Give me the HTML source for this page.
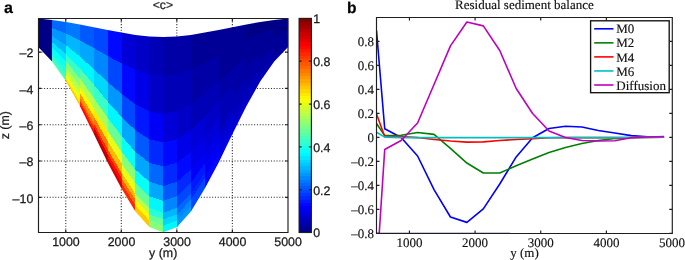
<!DOCTYPE html><html><head><meta charset="utf-8"><style>html,body{margin:0;padding:0;background:#fff;}body{width:685px;height:260px;overflow:hidden;}svg{display:block;}text{text-rendering:geometricPrecision;}.s{font-family:"Liberation Sans",sans-serif;stroke:#1a1a1a;stroke-width:0.25px;}.r{font-family:"Liberation Serif",serif;stroke:#111;stroke-width:0.15px;}</style></head><body>
<svg width="685" height="260" viewBox="0 0 685 260">
<rect width="685" height="260" fill="#fff"/>
<path d="M65.77 18.5V232.5M121.3 18.5V232.5M176.83 18.5V232.5M232.37 18.5V232.5M38.5 52.18H288M38.5 88.46H288M38.5 124.74H288M38.5 161.02H288M38.5 197.3H288" stroke="#333" stroke-width="1.1" stroke-dasharray="1.1 1.7" fill="none"/>
<defs><clipPath id="mc"><polygon points="38.2,18.46 52.08,19.91 65.97,21.89 79.85,24.38 93.73,27.14 107.62,30.02 121.5,32.62 135.38,34.92 149.27,36.46 163.15,37 177.03,36.46 190.92,34.92 204.8,32.62 218.68,30.02 232.57,27.14 246.45,24.38 260.33,21.89 274.22,19.91 288.1,18.46 288.1,46.9 274.22,61.4 260.33,81.2 246.45,106.1 232.57,133.7 218.68,162.5 204.8,188.5 190.92,211.5 177.03,226.9 163.15,232.3 149.27,226.9 135.38,211.5 121.5,188.5 107.62,162.5 93.73,133.7 79.85,106.1 65.97,81.2 52.08,61.4 38.2,46.9"/></clipPath></defs>
<g clip-path="url(#mc)" shape-rendering="crispEdges">
<polygon points="35.2,15.46 52.08,16.91 52.08,28.04 35.2,24.03" fill="#000087"/>
<polygon points="35.2,24.03 52.08,28.04 52.08,36.22 35.2,29.64" fill="#000087"/>
<polygon points="35.2,29.64 52.08,36.22 52.08,42.31 35.2,33.82" fill="#000087"/>
<polygon points="35.2,33.82 52.08,42.31 52.08,47.42 35.2,37.32" fill="#000087"/>
<polygon points="35.2,37.32 52.08,47.42 52.08,51.57 35.2,40.16" fill="#000087"/>
<polygon points="35.2,40.16 52.08,51.57 52.08,54.72 35.2,42.32" fill="#000087"/>
<polygon points="35.2,42.32 52.08,54.72 52.08,57.25 35.2,44.06" fill="#000087"/>
<polygon points="35.2,44.06 52.08,57.25 52.08,58.66 35.2,45.02" fill="#000087"/>
<polygon points="35.2,45.02 52.08,58.66 52.08,59.99 35.2,45.93" fill="#000087"/>
<polygon points="35.2,45.93 52.08,59.99 52.08,64.4 35.2,49.9" fill="#000087"/>
<polygon points="52.08,16.91 65.97,18.89 65.97,33.51 52.08,28.04" fill="#0068ff"/>
<polygon points="52.08,28.04 65.97,33.51 65.97,45.2 52.08,36.22" fill="#0097ff"/>
<polygon points="52.08,36.22 65.97,45.2 65.97,53.92 52.08,42.31" fill="#00b7ff"/>
<polygon points="52.08,42.31 65.97,53.92 65.97,61.21 52.08,47.42" fill="#00e7ff"/>
<polygon points="52.08,47.42 65.97,61.21 65.97,67.14 52.08,51.57" fill="#08fff7"/>
<polygon points="52.08,51.57 65.97,67.14 65.97,71.65 52.08,54.72" fill="#18ffe7"/>
<polygon points="52.08,54.72 65.97,71.65 65.97,75.27 52.08,57.25" fill="#28ffd7"/>
<polygon points="52.08,57.25 65.97,75.27 65.97,77.29 52.08,58.66" fill="#38ffc7"/>
<polygon points="52.08,58.66 65.97,77.29 65.97,79.18 52.08,59.99" fill="#48ffb7"/>
<polygon points="52.08,59.99 65.97,79.18 65.97,84.2 52.08,64.4" fill="#48ffb7"/>
<polygon points="65.97,18.89 79.85,21.38 79.85,40.4 65.97,33.51" fill="#0078ff"/>
<polygon points="65.97,33.51 79.85,40.4 79.85,56.5 65.97,45.2" fill="#00b7ff"/>
<polygon points="65.97,45.2 79.85,56.5 79.85,68.51 65.97,53.92" fill="#00f7ff"/>
<polygon points="65.97,53.92 79.85,68.51 79.85,78.56 65.97,61.21" fill="#38ffc7"/>
<polygon points="65.97,61.21 79.85,78.56 79.85,86.73 65.97,67.14" fill="#87ff78"/>
<polygon points="65.97,67.14 79.85,86.73 79.85,92.94 65.97,71.65" fill="#b7ff48"/>
<polygon points="65.97,71.65 79.85,92.94 79.85,97.93 65.97,75.27" fill="#d7ff28"/>
<polygon points="65.97,75.27 79.85,97.93 79.85,100.71 65.97,77.29" fill="#f7ff08"/>
<polygon points="65.97,77.29 79.85,100.71 79.85,103.32 65.97,79.18" fill="#ffe700"/>
<polygon points="65.97,79.18 79.85,103.32 79.85,109.1 65.97,84.2" fill="#ffc700"/>
<polygon points="79.85,21.38 93.73,24.14 93.73,48.03 79.85,40.4" fill="#0058ff"/>
<polygon points="79.85,40.4 93.73,48.03 93.73,69.02 79.85,56.5" fill="#00a7ff"/>
<polygon points="79.85,56.5 93.73,69.02 93.73,84.68 79.85,68.51" fill="#00f7ff"/>
<polygon points="79.85,68.51 93.73,84.68 93.73,97.79 79.85,78.56" fill="#58ffa7"/>
<polygon points="79.85,78.56 93.73,97.79 93.73,108.45 79.85,86.73" fill="#b7ff48"/>
<polygon points="79.85,86.73 93.73,108.45 93.73,116.54 79.85,92.94" fill="#fff700"/>
<polygon points="79.85,92.94 93.73,116.54 93.73,123.04 79.85,97.93" fill="#ff9700"/>
<polygon points="79.85,97.93 93.73,123.04 93.73,126.67 79.85,100.71" fill="#ff6800"/>
<polygon points="79.85,100.71 93.73,126.67 93.73,130.08 79.85,103.32" fill="#ff2800"/>
<polygon points="79.85,103.32 93.73,130.08 93.73,136.7 79.85,109.1" fill="#ff0800"/>
<polygon points="93.73,24.14 107.62,27.02 107.62,55.99 93.73,48.03" fill="#0048ff"/>
<polygon points="93.73,48.03 107.62,55.99 107.62,82.08 93.73,69.02" fill="#0087ff"/>
<polygon points="93.73,69.02 107.62,82.08 107.62,101.56 93.73,84.68" fill="#00d7ff"/>
<polygon points="93.73,84.68 107.62,101.56 107.62,117.85 93.73,97.79" fill="#38ffc7"/>
<polygon points="93.73,97.79 107.62,117.85 107.62,131.1 93.73,108.45" fill="#a7ff58"/>
<polygon points="93.73,108.45 107.62,131.1 107.62,141.17 93.73,116.54" fill="#ffe700"/>
<polygon points="93.73,116.54 107.62,141.17 107.62,149.25 93.73,123.04" fill="#ff7800"/>
<polygon points="93.73,123.04 107.62,149.25 107.62,153.76 93.73,126.67" fill="#ff2800"/>
<polygon points="93.73,126.67 107.62,153.76 107.62,158 93.73,130.08" fill="#d70000"/>
<polygon points="93.73,130.08 107.62,158 107.62,165.5 93.73,136.7" fill="#b70000"/>
<polygon points="107.62,27.02 121.5,29.62 121.5,63.17 107.62,55.99" fill="#0008ff"/>
<polygon points="107.62,55.99 121.5,63.17 121.5,93.88 107.62,82.08" fill="#0048ff"/>
<polygon points="107.62,82.08 121.5,93.88 121.5,116.8 107.62,101.56" fill="#0097ff"/>
<polygon points="107.62,101.56 121.5,116.8 121.5,135.97 107.62,117.85" fill="#00f7ff"/>
<polygon points="107.62,117.85 121.5,135.97 121.5,151.56 107.62,131.1" fill="#68ff97"/>
<polygon points="107.62,131.1 121.5,151.56 121.5,163.4 107.62,141.17" fill="#e7ff18"/>
<polygon points="107.62,141.17 121.5,163.4 121.5,172.91 107.62,149.25" fill="#ffb700"/>
<polygon points="107.62,149.25 121.5,172.91 121.5,178.21 107.62,153.76" fill="#ff4800"/>
<polygon points="107.62,153.76 121.5,178.21 121.5,183.2 107.62,158" fill="#ff0800"/>
<polygon points="107.62,158 121.5,183.2 121.5,191.5 107.62,165.5" fill="#d70000"/>
<polygon points="121.5,29.62 135.38,31.92 135.38,69.53 121.5,63.17" fill="#0000d7"/>
<polygon points="121.5,63.17 135.38,69.53 135.38,104.32 121.5,93.88" fill="#0008ff"/>
<polygon points="121.5,93.88 135.38,104.32 135.38,130.27 121.5,116.8" fill="#0048ff"/>
<polygon points="121.5,116.8 135.38,130.27 135.38,151.99 121.5,135.97" fill="#00a7ff"/>
<polygon points="121.5,135.97 135.38,151.99 135.38,169.65 121.5,151.56" fill="#08fff7"/>
<polygon points="121.5,151.56 135.38,169.65 135.38,183.07 121.5,163.4" fill="#87ff78"/>
<polygon points="121.5,163.4 135.38,183.07 135.38,193.84 121.5,172.91" fill="#e7ff18"/>
<polygon points="121.5,172.91 135.38,193.84 135.38,199.85 121.5,178.21" fill="#ffb700"/>
<polygon points="121.5,178.21 135.38,199.85 135.38,205.5 121.5,183.2" fill="#ff6800"/>
<polygon points="121.5,183.2 135.38,205.5 135.38,214.5 121.5,191.5" fill="#ff2800"/>
<polygon points="135.38,31.92 149.27,33.46 149.27,73.79 135.38,69.53" fill="#0000c7"/>
<polygon points="135.38,69.53 149.27,73.79 149.27,111.3 135.38,104.32" fill="#0000e7"/>
<polygon points="135.38,104.32 149.27,111.3 149.27,139.3 135.38,130.27" fill="#0018ff"/>
<polygon points="135.38,130.27 149.27,139.3 149.27,162.72 135.38,151.99" fill="#0058ff"/>
<polygon points="135.38,151.99 149.27,162.72 149.27,181.77 135.38,169.65" fill="#00a7ff"/>
<polygon points="135.38,169.65 149.27,181.77 149.27,196.24 135.38,183.07" fill="#08fff7"/>
<polygon points="135.38,183.07 149.27,196.24 149.27,207.86 135.38,193.84" fill="#68ff97"/>
<polygon points="135.38,193.84 149.27,207.86 149.27,214.33 135.38,199.85" fill="#b7ff48"/>
<polygon points="135.38,199.85 149.27,214.33 149.27,220.43 135.38,205.5" fill="#fff700"/>
<polygon points="135.38,205.5 149.27,220.43 149.27,229.9 135.38,214.5" fill="#ffc700"/>
<polygon points="149.27,33.46 163.15,34 163.15,75.28 149.27,73.79" fill="#0000b7"/>
<polygon points="149.27,73.79 163.15,75.28 163.15,113.75 149.27,111.3" fill="#0000c7"/>
<polygon points="149.27,111.3 163.15,113.75 163.15,142.46 149.27,139.3" fill="#0000f7"/>
<polygon points="149.27,139.3 163.15,142.46 163.15,166.48 149.27,162.72" fill="#0028ff"/>
<polygon points="149.27,162.72 163.15,166.48 163.15,186.01 149.27,181.77" fill="#0068ff"/>
<polygon points="149.27,181.77 163.15,186.01 163.15,200.86 149.27,196.24" fill="#00a7ff"/>
<polygon points="149.27,196.24 163.15,200.86 163.15,212.77 149.27,207.86" fill="#00f7ff"/>
<polygon points="149.27,207.86 163.15,212.77 163.15,219.41 149.27,214.33" fill="#28ffd7"/>
<polygon points="149.27,214.33 163.15,219.41 163.15,225.66 149.27,220.43" fill="#68ff97"/>
<polygon points="149.27,220.43 163.15,225.66 163.15,235.3 149.27,229.9" fill="#87ff78"/>
<polygon points="163.15,34 177.03,33.46 177.03,73.79 163.15,75.28" fill="#0000a7"/>
<polygon points="163.15,75.28 177.03,73.79 177.03,111.3 163.15,113.75" fill="#0000b7"/>
<polygon points="163.15,113.75 177.03,111.3 177.03,139.3 163.15,142.46" fill="#0000d7"/>
<polygon points="163.15,142.46 177.03,139.3 177.03,162.72 163.15,166.48" fill="#0008ff"/>
<polygon points="163.15,166.48 177.03,162.72 177.03,181.77 163.15,186.01" fill="#0028ff"/>
<polygon points="163.15,186.01 177.03,181.77 177.03,196.24 163.15,200.86" fill="#0058ff"/>
<polygon points="163.15,200.86 177.03,196.24 177.03,207.86 163.15,212.77" fill="#0087ff"/>
<polygon points="163.15,212.77 177.03,207.86 177.03,214.33 163.15,219.41" fill="#00b7ff"/>
<polygon points="163.15,219.41 177.03,214.33 177.03,220.43 163.15,225.66" fill="#00d7ff"/>
<polygon points="163.15,225.66 177.03,220.43 177.03,229.9 163.15,235.3" fill="#00f7ff"/>
<polygon points="177.03,33.46 190.92,31.92 190.92,69.53 177.03,73.79" fill="#0000a7"/>
<polygon points="177.03,73.79 190.92,69.53 190.92,104.32 177.03,111.3" fill="#0000b7"/>
<polygon points="177.03,111.3 190.92,104.32 190.92,130.27 177.03,139.3" fill="#0000c7"/>
<polygon points="177.03,139.3 190.92,130.27 190.92,151.99 177.03,162.72" fill="#0000e7"/>
<polygon points="177.03,162.72 190.92,151.99 190.92,169.65 177.03,181.77" fill="#0008ff"/>
<polygon points="177.03,181.77 190.92,169.65 190.92,183.07 177.03,196.24" fill="#0028ff"/>
<polygon points="177.03,196.24 190.92,183.07 190.92,193.84 177.03,207.86" fill="#0048ff"/>
<polygon points="177.03,207.86 190.92,193.84 190.92,199.85 177.03,214.33" fill="#0068ff"/>
<polygon points="177.03,214.33 190.92,199.85 190.92,205.5 177.03,220.43" fill="#0087ff"/>
<polygon points="177.03,220.43 190.92,205.5 190.92,214.5 177.03,229.9" fill="#0097ff"/>
<polygon points="190.92,31.92 204.8,29.62 204.8,63.17 190.92,69.53" fill="#000097"/>
<polygon points="190.92,69.53 204.8,63.17 204.8,93.88 190.92,104.32" fill="#0000a7"/>
<polygon points="190.92,104.32 204.8,93.88 204.8,116.8 190.92,130.27" fill="#0000b7"/>
<polygon points="190.92,130.27 204.8,116.8 204.8,135.97 190.92,151.99" fill="#0000d7"/>
<polygon points="190.92,151.99 204.8,135.97 204.8,151.56 190.92,169.65" fill="#0000e7"/>
<polygon points="190.92,169.65 204.8,151.56 204.8,163.4 190.92,183.07" fill="#0000f7"/>
<polygon points="190.92,183.07 204.8,163.4 204.8,172.91 190.92,193.84" fill="#0018ff"/>
<polygon points="190.92,193.84 204.8,172.91 204.8,178.21 190.92,199.85" fill="#0028ff"/>
<polygon points="190.92,199.85 204.8,178.21 204.8,183.2 190.92,205.5" fill="#0048ff"/>
<polygon points="190.92,205.5 204.8,183.2 204.8,191.5 190.92,214.5" fill="#0048ff"/>
<polygon points="204.8,29.62 218.68,27.02 218.68,55.99 204.8,63.17" fill="#000097"/>
<polygon points="204.8,63.17 218.68,55.99 218.68,82.08 204.8,93.88" fill="#0000a7"/>
<polygon points="204.8,93.88 218.68,82.08 218.68,101.56 204.8,116.8" fill="#0000b7"/>
<polygon points="204.8,116.8 218.68,101.56 218.68,117.85 204.8,135.97" fill="#0000c7"/>
<polygon points="204.8,135.97 218.68,117.85 218.68,131.1 204.8,151.56" fill="#0000d7"/>
<polygon points="204.8,151.56 218.68,131.1 218.68,141.17 204.8,163.4" fill="#0000e7"/>
<polygon points="204.8,163.4 218.68,141.17 218.68,149.25 204.8,172.91" fill="#0000f7"/>
<polygon points="204.8,172.91 218.68,149.25 218.68,153.76 204.8,178.21" fill="#0000f7"/>
<polygon points="204.8,178.21 218.68,153.76 218.68,158 204.8,183.2" fill="#0008ff"/>
<polygon points="204.8,183.2 218.68,158 218.68,165.5 204.8,191.5" fill="#0008ff"/>
<polygon points="218.68,27.02 232.57,24.14 232.57,48.03 218.68,55.99" fill="#000097"/>
<polygon points="218.68,55.99 232.57,48.03 232.57,69.02 218.68,82.08" fill="#000097"/>
<polygon points="218.68,82.08 232.57,69.02 232.57,84.68 218.68,101.56" fill="#0000a7"/>
<polygon points="218.68,101.56 232.57,84.68 232.57,97.79 218.68,117.85" fill="#0000b7"/>
<polygon points="218.68,117.85 232.57,97.79 232.57,108.45 218.68,131.1" fill="#0000b7"/>
<polygon points="218.68,131.1 232.57,108.45 232.57,116.54 218.68,141.17" fill="#0000c7"/>
<polygon points="218.68,141.17 232.57,116.54 232.57,123.04 218.68,149.25" fill="#0000d7"/>
<polygon points="218.68,149.25 232.57,123.04 232.57,126.67 218.68,153.76" fill="#0000d7"/>
<polygon points="218.68,153.76 232.57,126.67 232.57,130.08 218.68,158" fill="#0000e7"/>
<polygon points="218.68,158 232.57,130.08 232.57,136.7 218.68,165.5" fill="#0000f7"/>
<polygon points="232.57,24.14 246.45,21.38 246.45,40.4 232.57,48.03" fill="#000097"/>
<polygon points="232.57,48.03 246.45,40.4 246.45,56.5 232.57,69.02" fill="#000097"/>
<polygon points="232.57,69.02 246.45,56.5 246.45,68.51 232.57,84.68" fill="#0000a7"/>
<polygon points="232.57,84.68 246.45,68.51 246.45,78.56 232.57,97.79" fill="#0000a7"/>
<polygon points="232.57,97.79 246.45,78.56 246.45,86.73 232.57,108.45" fill="#0000b7"/>
<polygon points="232.57,108.45 246.45,86.73 246.45,92.94 232.57,116.54" fill="#0000b7"/>
<polygon points="232.57,116.54 246.45,92.94 246.45,97.93 232.57,123.04" fill="#0000c7"/>
<polygon points="232.57,123.04 246.45,97.93 246.45,100.71 232.57,126.67" fill="#0000c7"/>
<polygon points="232.57,126.67 246.45,100.71 246.45,103.32 232.57,130.08" fill="#0000d7"/>
<polygon points="232.57,130.08 246.45,103.32 246.45,109.1 232.57,136.7" fill="#0000d7"/>
<polygon points="246.45,21.38 260.33,18.89 260.33,33.51 246.45,40.4" fill="#000087"/>
<polygon points="246.45,40.4 260.33,33.51 260.33,45.2 246.45,56.5" fill="#000097"/>
<polygon points="246.45,56.5 260.33,45.2 260.33,53.92 246.45,68.51" fill="#000097"/>
<polygon points="246.45,68.51 260.33,53.92 260.33,61.21 246.45,78.56" fill="#0000a7"/>
<polygon points="246.45,78.56 260.33,61.21 260.33,67.14 246.45,86.73" fill="#0000a7"/>
<polygon points="246.45,86.73 260.33,67.14 260.33,71.65 246.45,92.94" fill="#0000b7"/>
<polygon points="246.45,92.94 260.33,71.65 260.33,75.27 246.45,97.93" fill="#0000b7"/>
<polygon points="246.45,97.93 260.33,75.27 260.33,77.29 246.45,100.71" fill="#0000b7"/>
<polygon points="246.45,100.71 260.33,77.29 260.33,79.18 246.45,103.32" fill="#0000c7"/>
<polygon points="246.45,103.32 260.33,79.18 260.33,84.2 246.45,109.1" fill="#0000c7"/>
<polygon points="260.33,18.89 274.22,16.91 274.22,28.04 260.33,33.51" fill="#000087"/>
<polygon points="260.33,33.51 274.22,28.04 274.22,36.22 260.33,45.2" fill="#000097"/>
<polygon points="260.33,45.2 274.22,36.22 274.22,42.31 260.33,53.92" fill="#000097"/>
<polygon points="260.33,53.92 274.22,42.31 274.22,47.42 260.33,61.21" fill="#000097"/>
<polygon points="260.33,61.21 274.22,47.42 274.22,51.57 260.33,67.14" fill="#0000a7"/>
<polygon points="260.33,67.14 274.22,51.57 274.22,54.72 260.33,71.65" fill="#0000a7"/>
<polygon points="260.33,71.65 274.22,54.72 274.22,57.25 260.33,75.27" fill="#0000a7"/>
<polygon points="260.33,75.27 274.22,57.25 274.22,58.66 260.33,77.29" fill="#0000b7"/>
<polygon points="260.33,77.29 274.22,58.66 274.22,59.99 260.33,79.18" fill="#0000b7"/>
<polygon points="260.33,79.18 274.22,59.99 274.22,64.4 260.33,84.2" fill="#0000b7"/>
<polygon points="274.22,16.91 291.1,15.46 291.1,24.03 274.22,28.04" fill="#000087"/>
<polygon points="274.22,28.04 291.1,24.03 291.1,29.64 274.22,36.22" fill="#000087"/>
<polygon points="274.22,36.22 291.1,29.64 291.1,33.82 274.22,42.31" fill="#000097"/>
<polygon points="274.22,42.31 291.1,33.82 291.1,37.32 274.22,47.42" fill="#000097"/>
<polygon points="274.22,47.42 291.1,37.32 291.1,40.16 274.22,51.57" fill="#000097"/>
<polygon points="274.22,51.57 291.1,40.16 291.1,42.32 274.22,54.72" fill="#000097"/>
<polygon points="274.22,54.72 291.1,42.32 291.1,44.06 274.22,57.25" fill="#0000a7"/>
<polygon points="274.22,57.25 291.1,44.06 291.1,45.02 274.22,58.66" fill="#0000a7"/>
<polygon points="274.22,58.66 291.1,45.02 291.1,45.93 274.22,59.99" fill="#0000a7"/>
<polygon points="274.22,59.99 291.1,45.93 291.1,49.9 274.22,64.4" fill="#0000a7"/>
</g>
<path d="M38.5 18.5H288V232.5H38.5Z" fill="none" stroke="#1e1e1e" stroke-width="1.15"/>
<path d="M65.77 232.5v-2.8M65.77 18.5v2.8M121.3 232.5v-2.8M121.3 18.5v2.8M176.83 232.5v-2.8M176.83 18.5v2.8M232.37 232.5v-2.8M232.37 18.5v2.8M38.5 52.18h2.8M288 52.18h-2.8M38.5 88.46h2.8M288 88.46h-2.8M38.5 124.74h2.8M288 124.74h-2.8M38.5 161.02h2.8M288 161.02h-2.8M38.5 197.3h2.8M288 197.3h-2.8" stroke="#1e1e1e" stroke-width="1.2" fill="none"/>
<g shape-rendering="crispEdges">
<rect x="299.1" y="229.15" width="12.3" height="3.95" fill="#000087"/>
<rect x="299.1" y="225.81" width="12.3" height="3.95" fill="#000097"/>
<rect x="299.1" y="222.46" width="12.3" height="3.95" fill="#0000a7"/>
<rect x="299.1" y="219.12" width="12.3" height="3.95" fill="#0000b7"/>
<rect x="299.1" y="215.77" width="12.3" height="3.95" fill="#0000c7"/>
<rect x="299.1" y="212.43" width="12.3" height="3.95" fill="#0000d7"/>
<rect x="299.1" y="209.08" width="12.3" height="3.95" fill="#0000e7"/>
<rect x="299.1" y="205.74" width="12.3" height="3.95" fill="#0000f7"/>
<rect x="299.1" y="202.39" width="12.3" height="3.95" fill="#0008ff"/>
<rect x="299.1" y="199.05" width="12.3" height="3.95" fill="#0018ff"/>
<rect x="299.1" y="195.7" width="12.3" height="3.95" fill="#0028ff"/>
<rect x="299.1" y="192.36" width="12.3" height="3.95" fill="#0038ff"/>
<rect x="299.1" y="189.01" width="12.3" height="3.95" fill="#0048ff"/>
<rect x="299.1" y="185.67" width="12.3" height="3.95" fill="#0058ff"/>
<rect x="299.1" y="182.32" width="12.3" height="3.95" fill="#0068ff"/>
<rect x="299.1" y="178.97" width="12.3" height="3.95" fill="#0078ff"/>
<rect x="299.1" y="175.63" width="12.3" height="3.95" fill="#0087ff"/>
<rect x="299.1" y="172.28" width="12.3" height="3.95" fill="#0097ff"/>
<rect x="299.1" y="168.94" width="12.3" height="3.95" fill="#00a7ff"/>
<rect x="299.1" y="165.59" width="12.3" height="3.95" fill="#00b7ff"/>
<rect x="299.1" y="162.25" width="12.3" height="3.95" fill="#00c7ff"/>
<rect x="299.1" y="158.9" width="12.3" height="3.95" fill="#00d7ff"/>
<rect x="299.1" y="155.56" width="12.3" height="3.95" fill="#00e7ff"/>
<rect x="299.1" y="152.21" width="12.3" height="3.95" fill="#00f7ff"/>
<rect x="299.1" y="148.87" width="12.3" height="3.95" fill="#08fff7"/>
<rect x="299.1" y="145.52" width="12.3" height="3.95" fill="#18ffe7"/>
<rect x="299.1" y="142.18" width="12.3" height="3.95" fill="#28ffd7"/>
<rect x="299.1" y="138.83" width="12.3" height="3.95" fill="#38ffc7"/>
<rect x="299.1" y="135.49" width="12.3" height="3.95" fill="#48ffb7"/>
<rect x="299.1" y="132.14" width="12.3" height="3.95" fill="#58ffa7"/>
<rect x="299.1" y="128.8" width="12.3" height="3.95" fill="#68ff97"/>
<rect x="299.1" y="125.45" width="12.3" height="3.95" fill="#78ff87"/>
<rect x="299.1" y="122.1" width="12.3" height="3.95" fill="#87ff78"/>
<rect x="299.1" y="118.76" width="12.3" height="3.95" fill="#97ff68"/>
<rect x="299.1" y="115.41" width="12.3" height="3.95" fill="#a7ff58"/>
<rect x="299.1" y="112.07" width="12.3" height="3.95" fill="#b7ff48"/>
<rect x="299.1" y="108.72" width="12.3" height="3.95" fill="#c7ff38"/>
<rect x="299.1" y="105.38" width="12.3" height="3.95" fill="#d7ff28"/>
<rect x="299.1" y="102.03" width="12.3" height="3.95" fill="#e7ff18"/>
<rect x="299.1" y="98.69" width="12.3" height="3.95" fill="#f7ff08"/>
<rect x="299.1" y="95.34" width="12.3" height="3.95" fill="#fff700"/>
<rect x="299.1" y="92" width="12.3" height="3.95" fill="#ffe700"/>
<rect x="299.1" y="88.65" width="12.3" height="3.95" fill="#ffd700"/>
<rect x="299.1" y="85.31" width="12.3" height="3.95" fill="#ffc700"/>
<rect x="299.1" y="81.96" width="12.3" height="3.95" fill="#ffb700"/>
<rect x="299.1" y="78.62" width="12.3" height="3.95" fill="#ffa700"/>
<rect x="299.1" y="75.27" width="12.3" height="3.95" fill="#ff9700"/>
<rect x="299.1" y="71.93" width="12.3" height="3.95" fill="#ff8700"/>
<rect x="299.1" y="68.58" width="12.3" height="3.95" fill="#ff7800"/>
<rect x="299.1" y="65.23" width="12.3" height="3.95" fill="#ff6800"/>
<rect x="299.1" y="61.89" width="12.3" height="3.95" fill="#ff5800"/>
<rect x="299.1" y="58.54" width="12.3" height="3.95" fill="#ff4800"/>
<rect x="299.1" y="55.2" width="12.3" height="3.95" fill="#ff3800"/>
<rect x="299.1" y="51.85" width="12.3" height="3.95" fill="#ff2800"/>
<rect x="299.1" y="48.51" width="12.3" height="3.95" fill="#ff1800"/>
<rect x="299.1" y="45.16" width="12.3" height="3.95" fill="#ff0800"/>
<rect x="299.1" y="41.82" width="12.3" height="3.95" fill="#f70000"/>
<rect x="299.1" y="38.47" width="12.3" height="3.95" fill="#e70000"/>
<rect x="299.1" y="35.13" width="12.3" height="3.95" fill="#d70000"/>
<rect x="299.1" y="31.78" width="12.3" height="3.95" fill="#c70000"/>
<rect x="299.1" y="28.44" width="12.3" height="3.95" fill="#b70000"/>
<rect x="299.1" y="25.09" width="12.3" height="3.95" fill="#a70000"/>
<rect x="299.1" y="21.75" width="12.3" height="3.95" fill="#970000"/>
<rect x="299.1" y="18.4" width="12.3" height="3.95" fill="#870000"/>
</g>
<rect x="299.1" y="18.4" width="12.3" height="214.1" fill="none" stroke="#1e1e1e" stroke-width="1.15"/>
<path d="M299.1 189.68h2.5M311.4 189.68h-2.5M299.1 146.86h2.5M311.4 146.86h-2.5M299.1 104.04h2.5M311.4 104.04h-2.5M299.1 61.22h2.5M311.4 61.22h-2.5" stroke="#1e1e1e" stroke-width="1.2"/>
<defs><clipPath id="rc"><rect x="376.5" y="17.5" width="295.79999999999995" height="215.5"/></clipPath></defs>
<g clip-path="url(#rc)" fill="none" stroke-width="1.6" stroke-linejoin="round">
<path d="M376.5 30.66 L384.72 128.73 L401.15 137.46 L417.58 156 L434.02 189.6 L450.45 216.99 L466.88 222.37 L483.32 208.86 L499.75 183.98 L516.18 156.95 L532.62 137.7 L549.05 128.49 L565.48 126.22 L581.92 127.05 L598.35 130.52 L614.78 133.03 L631.22 135.66 L647.65 136.86 L664.08 137.1" stroke="#0000ff"/>
<path d="M376.5 123.47 L384.72 135.66 L401.15 135.31 L417.58 132.44 L434.02 134.35 L450.45 148.46 L466.88 163.05 L483.32 172.98 L499.75 172.98 L516.18 165.8 L532.62 158.99 L549.05 152.53 L565.48 147.51 L581.92 143.56 L598.35 140.45 L614.78 138.54 L631.22 137.82 L647.65 137.1 L664.08 137.1" stroke="#008000"/>
<path d="M376.5 114.02 L384.72 136.5 L401.15 136.5 L417.58 137.58 L434.02 139.49 L450.45 141.05 L466.88 142.12 L483.32 141.88 L499.75 140.45 L516.18 139.49 L532.62 138.77 L549.05 137.82 L565.48 137.58 L581.92 137.58 L598.35 137.58 L614.78 137.58 L631.22 137.46 L647.65 137.34 L664.08 137.22" stroke="#ff0000"/>
<path d="M376.5 132.2 L384.72 137.1 L401.15 137.58 L417.58 137.58 L434.02 137.58 L450.45 137.58 L466.88 137.58 L483.32 137.58 L499.75 137.58 L516.18 137.58 L532.62 137.58 L549.05 137.58 L565.48 137.58 L581.92 137.58 L598.35 137.58 L614.78 137.58 L631.22 137.46 L647.65 137.34 L664.08 137.22" stroke="#00bfbf"/>
<path d="M376.5 274.64 L384.72 149.54 L401.15 140.45 L417.58 122.99 L434.02 84.48 L450.45 45.85 L466.88 22.04 L483.32 25.87 L499.75 50.51 L516.18 88.54 L532.62 113.54 L549.05 131 L565.48 137.46 L581.92 140.45 L598.35 141.05 L614.78 140.81 L631.22 137.7 L647.65 136.98 L664.08 136.62" stroke="#bf00bf"/>
</g>
<path d="M376.5 233.4H510" stroke="#2a2a8a" stroke-width="1.2" fill="none"/>
<path d="M376.5 17.5H672.3V233.5H376.5Z" fill="none" stroke="#1e1e1e" stroke-width="1.15"/>
<path d="M409.43 233.5v-3M409.43 17.5v3M475.08 233.5v-3M475.08 17.5v3M540.73 233.5v-3M540.73 17.5v3M606.38 233.5v-3M606.38 17.5v3M376.5 233.4h3M672.3 233.4h-3M376.5 209.4h3M672.3 209.4h-3M376.5 185.4h3M672.3 185.4h-3M376.5 161.4h3M672.3 161.4h-3M376.5 137.4h3M672.3 137.4h-3M376.5 113.4h3M672.3 113.4h-3M376.5 89.4h3M672.3 89.4h-3M376.5 65.4h3M672.3 65.4h-3M376.5 41.4h3M672.3 41.4h-3" stroke="#1e1e1e" stroke-width="1.15" fill="none"/>
<rect x="590.6" y="20.8" width="78.6" height="71.9" fill="#fff" stroke="#111" stroke-width="1.35"/>
<path d="M594.2 28.8H613.5" stroke="#0000ff" stroke-width="1.6"/>
<path d="M594.2 42.85H613.5" stroke="#008000" stroke-width="1.6"/>
<path d="M594.2 56.9H613.5" stroke="#ff0000" stroke-width="1.6"/>
<path d="M594.2 70.95H613.5" stroke="#00bfbf" stroke-width="1.6"/>
<path d="M594.2 85H613.5" stroke="#bf00bf" stroke-width="1.6"/>
<g style="will-change:transform">
<text class="s" x="65.97" y="246.1" font-size="12.4" text-anchor="middle" fill="#1a1a1a">1000</text>
<text class="s" x="121.5" y="246.1" font-size="12.4" text-anchor="middle" fill="#1a1a1a">2000</text>
<text class="s" x="177.03" y="246.1" font-size="12.4" text-anchor="middle" fill="#1a1a1a">3000</text>
<text class="s" x="232.57" y="246.1" font-size="12.4" text-anchor="middle" fill="#1a1a1a">4000</text>
<text class="s" x="288.1" y="246.1" font-size="12.4" text-anchor="middle" fill="#1a1a1a">5000</text>
<text class="s" x="33.3" y="57.38" font-size="12.4" text-anchor="end" fill="#1a1a1a">–2</text>
<text class="s" x="33.3" y="93.66" font-size="12.4" text-anchor="end" fill="#1a1a1a">–4</text>
<text class="s" x="33.3" y="129.94" font-size="12.4" text-anchor="end" fill="#1a1a1a">–6</text>
<text class="s" x="33.3" y="166.22" font-size="12.4" text-anchor="end" fill="#1a1a1a">–8</text>
<text class="s" x="33.3" y="202.5" font-size="12.4" text-anchor="end" fill="#1a1a1a">–10</text>
<text class="s" x="163.2" y="257.4" font-size="12.4" text-anchor="middle" fill="#1a1a1a">y (m)</text>
<text class="s" transform="translate(9.4 125.2) rotate(-90)" font-size="12.4" text-anchor="middle" fill="#1a1a1a">z (m)</text>
<text class="s" x="162.9" y="9.4" font-size="12.2" text-anchor="middle" fill="#1a1a1a">&lt;c&gt;</text>
<text class="s" x="4.0" y="12.8" font-size="16" font-weight="bold" fill="#000">a</text>
<text class="s" x="313.2" y="237.4" font-size="12.4" fill="#1a1a1a">0</text>
<text class="s" x="313.2" y="194.58" font-size="12.4" fill="#1a1a1a">0.2</text>
<text class="s" x="313.2" y="151.76" font-size="12.4" fill="#1a1a1a">0.4</text>
<text class="s" x="313.2" y="108.94" font-size="12.4" fill="#1a1a1a">0.6</text>
<text class="s" x="313.2" y="66.12" font-size="12.4" fill="#1a1a1a">0.8</text>
<text class="s" x="313.2" y="23.3" font-size="12.4" fill="#1a1a1a">1</text>
<text class="r" x="409.43" y="246.8" font-size="13" text-anchor="middle" fill="#111">1000</text>
<text class="r" x="475.08" y="246.8" font-size="13" text-anchor="middle" fill="#111">2000</text>
<text class="r" x="540.73" y="246.8" font-size="13" text-anchor="middle" fill="#111">3000</text>
<text class="r" x="606.38" y="246.8" font-size="13" text-anchor="middle" fill="#111">4000</text>
<text class="r" x="672.03" y="246.8" font-size="13" text-anchor="middle" fill="#111">5000</text>
<text class="r" x="374.0" y="238.2" font-size="13" text-anchor="end" fill="#111">–0.8</text>
<text class="r" x="374.0" y="214.2" font-size="13" text-anchor="end" fill="#111">–0.6</text>
<text class="r" x="374.0" y="190.2" font-size="13" text-anchor="end" fill="#111">–0.4</text>
<text class="r" x="374.0" y="166.2" font-size="13" text-anchor="end" fill="#111">–0.2</text>
<text class="r" x="374.0" y="142.2" font-size="13" text-anchor="end" fill="#111">0</text>
<text class="r" x="374.0" y="118.2" font-size="13" text-anchor="end" fill="#111">0.2</text>
<text class="r" x="374.0" y="94.2" font-size="13" text-anchor="end" fill="#111">0.4</text>
<text class="r" x="374.0" y="70.2" font-size="13" text-anchor="end" fill="#111">0.6</text>
<text class="r" x="374.0" y="46.2" font-size="13" text-anchor="end" fill="#111">0.8</text>
<text class="r" x="524.5" y="257.3" font-size="13" text-anchor="middle" fill="#111">y (m)</text>
<text class="r" x="524.4" y="8.6" font-size="13" text-anchor="middle" fill="#111">Residual sediment balance</text>
<text class="s" x="346.9" y="12.6" font-size="15.6" font-weight="bold">b</text>
<text class="r" x="616.3" y="33.4" font-size="13" fill="#111">M0</text>
<text class="r" x="616.3" y="47.45" font-size="13" fill="#111">M2</text>
<text class="r" x="616.3" y="61.5" font-size="13" fill="#111">M4</text>
<text class="r" x="616.3" y="75.55" font-size="13" fill="#111">M6</text>
<text class="r" x="616.3" y="89.6" font-size="13" fill="#111">Diffusion</text>
</g>
</svg></body></html>
